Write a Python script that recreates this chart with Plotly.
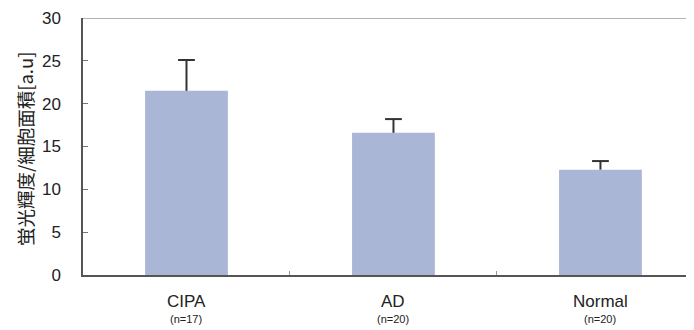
import plotly.graph_objects as go

categories = ["CIPA", "AD", "Normal"]
n_labels = ["(n=17)", "(n=20)", "(n=20)"]
means = [21.5, 16.6, 12.3]
sd_upper = [3.6, 1.6, 1.0]
y_ticks = [0, 5, 10, 15, 20, 25, 30]
y_title = "蛍光輝度/細胞面積[a.u]"

# page body has an 8px margin; compensate so the plot lands where the reference has it
OFF = 8
W, H = 694 - OFF, 330 - OFF
L, T = 83 - OFF, 18 - OFF
B = H - (275 - OFF)
xpos = list(range(len(categories)))

fig = go.Figure()
fig.add_trace(go.Bar(
    x=xpos, y=means, width=0.40,
    marker=dict(color="rgb(170,182,214)", line=dict(width=0)),
    showlegend=False, hoverinfo="skip",
))
# upward-only error bars: stem from mean to mean+sd plus a cap
stem_x, stem_y = [], []
for x, m, s in zip(xpos, means, sd_upper):
    stem_x += [x, x, None]
    stem_y += [m, m + s, None]
fig.add_trace(go.Scatter(x=stem_x, y=stem_y, mode="lines",
                         line=dict(color="#333333", width=2), showlegend=False))
fig.add_trace(go.Scatter(x=xpos, y=[m + s for m, s in zip(means, sd_upper)], mode="markers",
                         marker=dict(symbol="line-ew", size=12,
                                     line=dict(color="#333333", width=2)),
                         showlegend=False))

FONT = "Liberation Sans, Arial, sans-serif"
fig.update_layout(
    width=W, height=H,
    margin=dict(l=L, r=0, t=T, b=B),
    paper_bgcolor="white", plot_bgcolor="white",
    font=dict(family=FONT, color="#222222"),
    xaxis=dict(range=[-0.5, 2.452], showgrid=False, zeroline=False,
               showline=True, linecolor="#555555", linewidth=1.5,
               tickvals=[0.5, 1.5], ticktext=["", ""], ticks="inside",
               ticklen=4, tickcolor="#999999", fixedrange=True, automargin=False),
    yaxis=dict(range=[0, 30], tickvals=y_ticks, showgrid=False, zeroline=False,
               showline=True, linecolor="#555555", linewidth=1.5,
               ticks="inside", ticklen=5, tickcolor="#777777",
               tickfont=dict(size=17, family=FONT, color="#222222"),
               ticklabelstandoff=17, automargin=False),
)
fig.add_shape(type="line", xref="paper", yref="y", x0=0, x1=1, y0=30, y1=30,
              line=dict(color="#666666", width=1.2))

for i, (c, n) in enumerate(zip(categories, n_labels)):
    fig.add_annotation(x=i, y=0, xref="x", yref="y", yshift=-26, text=c,
                       showarrow=False, font=dict(size=17, family=FONT, color="#222222"))
    fig.add_annotation(x=i, y=0, xref="x", yref="y", yshift=-44, text=n,
                       showarrow=False, font=dict(size=11, family=FONT, color="#222222"))

fig.add_annotation(xref="paper", yref="paper", x=(25 - 83) / (694 - 83), y=0.49,
                   text=y_title, textangle=-90, showarrow=False, xanchor="center",
                   font=dict(size=18.5, family="Noto Sans CJK JP, sans-serif", color="#222222"))

fig.write_html("out.html")
